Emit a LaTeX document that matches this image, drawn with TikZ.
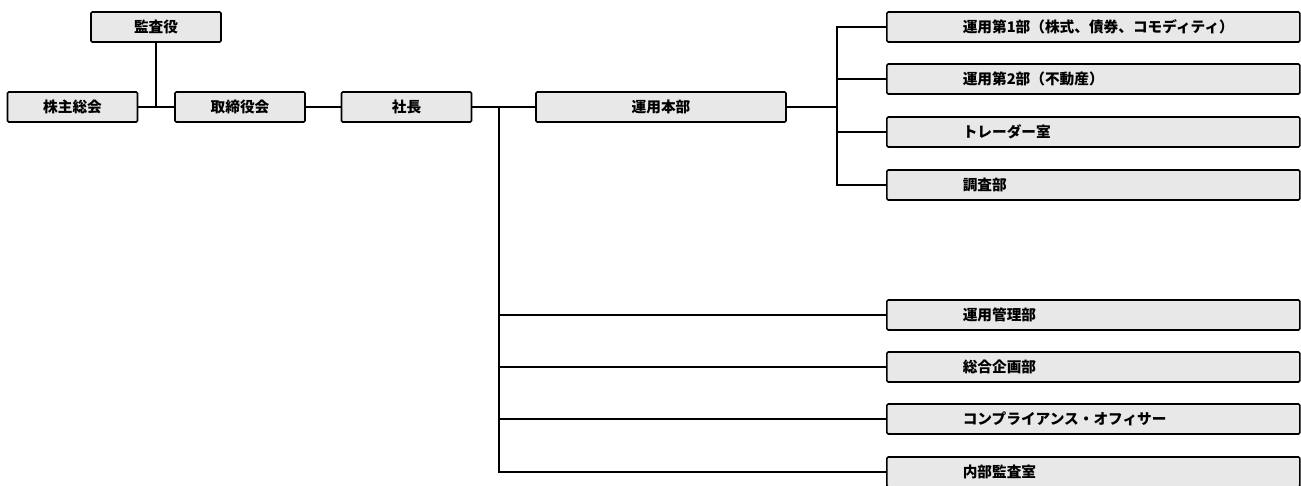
\documentclass[tikz,border=0pt]{standalone}
\usepackage{fontspec}
\newfontfamily\jpfont{Noto Sans CJK JP}
\usetikzlibrary{calc,positioning}
\definecolor{boxgray}{RGB}{232,232,232}

\begin{document}
\begin{tikzpicture}[x=0.75pt,y=-0.75pt]
    \def\rx{886}
    \def\vx{499}
    \def\sx{837}
    \tikzstyle{box}=[draw=black,line width=1.2pt,fill=boxgray,rounded corners=1pt,minimum height=22.5pt,inner sep=0pt,font=\jpfont\bfseries\fontsize{11}{13}\selectfont]
    \tikzstyle{small box}=[box,minimum width=97.5pt]
    \tikzstyle{wide box}=[box,anchor=west,text width=309.75pt,align=left,execute at begin node={\hspace*{57pt}}]
    \tikzstyle{link}=[line width=1.2pt]

\useasboundingbox (0,0) rectangle (1301,485);

% Direction
\node[small box] (audit) at (156,27) {監査役};
\node[small box] (meeting) at (72.5,107) {株主総会};
\node[small box] (board) at (240,107) {取締役会};
\node[small box] (pres) at (406.5,107) {社長};
\node[box,minimum width=187.5pt] (ops) at (661,107) {運用本部};

% Departements
\node[wide box] (D-1) at (\rx,27) {運用第1部（株式、債券、コモディティ）};
\node[wide box] (D-2) at (\rx,79) {運用第2部（不動産）};
\node[wide box] (D-3) at (\rx,132) {トレーダー室};
\node[wide box] (D-4) at (\rx,185) {調査部};
\node[wide box] (D-5) at (\rx,315) {運用管理部};
\node[wide box] (D-6) at (\rx,367) {総合企画部};
\node[wide box] (D-7) at (\rx,419) {コンプライアンス・オフィサー};
\node[wide box] (D-8) at (\rx,472) {内部監査室};

% Liaisons
\draw[link] (meeting) -- (board);
\draw[link] (audit) -- (audit |- meeting);
\draw[link] (board) -- (pres);
\draw[link] (pres) -- (ops);

\coordinate (split) at (\vx,107);
\foreach \i in {5,...,8}
    \draw[link] (split) |- (D-\i.west);

\coordinate (fork) at (\sx,107);
\draw[link] (ops) -- (fork);
\foreach \i in {1,...,4}
    \draw[link] (fork) |- (D-\i.west);

\end{tikzpicture}
\end{document}
